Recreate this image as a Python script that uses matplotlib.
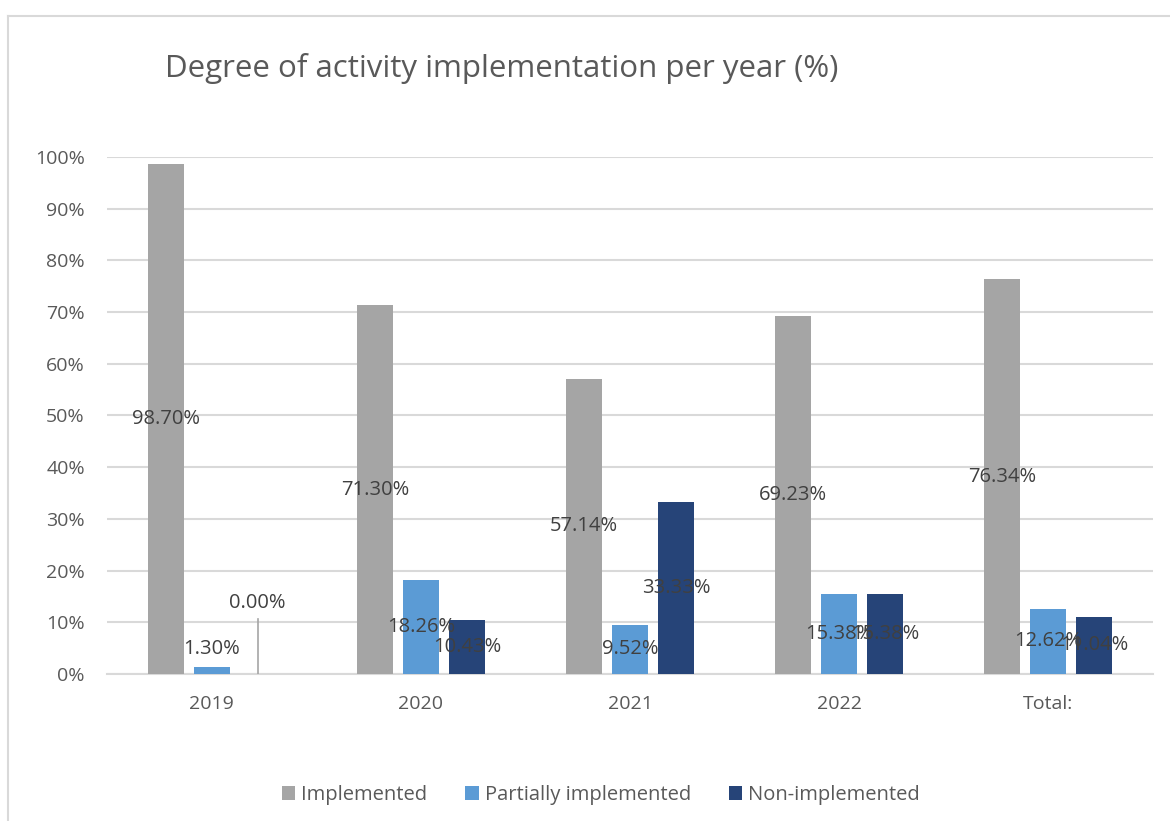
import matplotlib
matplotlib.use("Agg")
import matplotlib.pyplot as plt
import numpy as np
from matplotlib.lines import Line2D
from matplotlib.patches import Patch

categories = ["2019", "2020", "2021", "2022", "Total:"]
implemented = [98.70, 71.30, 57.14, 69.23, 76.34]
partially = [1.30, 18.26, 9.52, 15.38, 12.62]
non_implemented = [0.00, 10.43, 33.33, 15.38, 11.04]
series_names = ["Implemented", "Partially implemented", "Non-implemented"]
yticks = [0, 10, 20, 30, 40, 50, 60, 70, 80, 90, 100]

colors = ["#A5A5A5", "#5B9BD5", "#264478"]
plt.rcParams['font.family'] = ['Open Sans', 'DejaVu Sans']

W, H = 1170, 821
fig = plt.figure(figsize=(W / 100, H / 100), dpi=100)

# chart border (left and top visible)
fig.add_artist(Line2D([8 / W, 8 / W], [0, 1 - 16 / H], color="#D9D9D9", lw=1.5))
fig.add_artist(Line2D([8 / W, 1], [1 - 16 / H, 1 - 16 / H], color="#D9D9D9", lw=1.5))

ax = fig.add_axes([107 / W, 1 - 674 / H, (1153 - 107) / W, (674 - 157) / H])
x = np.arange(len(categories))
bw = 0.172
off = 0.22
series = [implemented, partially, non_implemented]
for i, (vals, c) in enumerate(zip(series, colors)):
    ax.bar(x + (i - 1) * off, vals, width=bw, color=c, zorder=3)

ax.set_xlim(-0.5, len(categories) - 0.5)
ax.set_ylim(0, 100)
ax.set_yticks(yticks)
ax.set_yticklabels([f"{t}%" for t in yticks])
ax.set_xticks(x)
ax.set_xticklabels(categories)
ax.tick_params(length=0, labelsize=14, colors="#595959")
ax.tick_params(axis="y", pad=16)
ax.tick_params(axis="x", pad=15)
ax.grid(axis="y", color="#D9D9D9", lw=1.5, zorder=0)
for s in ["top", "right", "left"]:
    ax.spines[s].set_visible(False)
ax.spines["bottom"].set_color("#D9D9D9")
ax.spines["bottom"].set_linewidth(1.5)

# data labels
lab_kw = dict(ha="center", va="center", fontsize=14.5, color="#404040", zorder=5)
for i, vals in enumerate(series):
    for j, v in enumerate(vals):
        xp = j + (i - 1) * off
        if i == 1 and j == 0:
            ax.text(xp, 4.8, f"{v:.2f}%", **lab_kw)
        elif i == 2 and j == 0:
            ax.text(xp, 13.7, f"{v:.2f}%", **lab_kw)
            ax.plot([xp, xp], [0, 10.7], color="#A5A5A5", lw=1.2, zorder=4)
        else:
            ax.text(xp, v / 2, f"{v:.2f}%", **lab_kw)

fig.text(165 / W, 1 - 68 / H, "Degree of activity implementation per year (%)",
         ha="left", va="center", fontsize=22.5, color="#595959")

handles = [Patch(facecolor=c, edgecolor="none") for c in colors]
fig.legend(handles, series_names, loc="center", bbox_to_anchor=(601 / W, 1 - 795 / H),
           ncol=3, frameon=False, fontsize=14.5, labelcolor="#595959",
           handlelength=0.65, handleheight=0.65, handletextpad=0.3, columnspacing=1.9)

fig.savefig("out.png", dpi=100)
